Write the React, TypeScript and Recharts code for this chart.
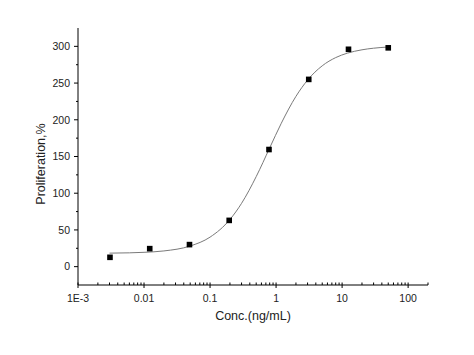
import { ComposedChart, Line, Scatter, XAxis, YAxis } from "recharts";

// measured points (4-fold dilution series)
const concs = [0.00305, 0.0122, 0.0488, 0.195, 0.781, 3.125, 12.5, 50];
const proliferation = [12.7, 24.5, 30, 63, 159.5, 255, 296, 298];

// fitted curve
const curveConcs = [0.003, 0.006, 0.01, 0.02, 0.05, 0.1, 0.2, 0.3, 0.5, 0.8, 1.2, 2, 3, 5, 8, 12, 20, 30, 50];
const curveValues = [18.4, 18.8, 19.5, 21.4, 28.1, 40.2, 64.2, 86.2, 122.6, 161.7, 195.3, 231.9, 254.1, 273.5, 284.7, 290.7, 295.3, 297.5, 299.1];

const xMajorTicks = [0.001, 0.01, 0.1, 1, 10, 100];
const xMinorSteps = [2, 3, 4, 5, 6, 7, 8, 9];
const yTicks = [0, 25, 50, 75, 100, 125, 150, 175, 200, 225, 250, 275, 300];

const points = concs.map((x, i) => ({ x, y: proliferation[i] }));
const curve = curveConcs.map((x, i) => ({ x, y: curveValues[i] }));

const xTicks: number[] = [];
xMajorTicks.forEach((m) => {
  xTicks.push(m);
  xMinorSteps.forEach((s) => {
    const v = Number((m * s).toPrecision(6));
    if (v <= 200) xTicks.push(v);
  });
});

const FONT = "'Liberation Sans', Arial, sans-serif";
const TEXT = "#222";

function isMajor(v: number) {
  const l = Math.log10(v);
  return Math.abs(l - Math.round(l)) < 1e-9;
}

function formatX(v: number) {
  if (v === 0.001) return "1E-3";
  return String(v);
}

function XTick(props: any) {
  const { x, y, payload } = props;
  const v = payload.value;
  const major = isMajor(v);
  return (
    <g>
      <line x1={x} x2={x} y1={y - 2.5} y2={major ? y + 3 : y} stroke="#000" strokeWidth={1} />
      {major && (
        <text x={x} y={y + 16.5} textAnchor="middle" fontSize={10.5} fill={TEXT} fontFamily={FONT}>
          {formatX(v)}
        </text>
      )}
    </g>
  );
}

function YTick(props: any) {
  const { x, y, payload } = props;
  const v = payload.value;
  const major = v % 50 === 0;
  return (
    <g>
      <line x1={x - (major ? 4 : 2)} x2={x} y1={y} y2={y} stroke="#000" strokeWidth={1} />
      {major && (
        <text x={x - 8} y={y + 3.8} textAnchor="end" fontSize={10.5} fill={TEXT} fontFamily={FONT}>
          {v}
        </text>
      )}
    </g>
  );
}

function Square(props: any) {
  const { cx, cy } = props;
  return <rect x={cx - 2.8} y={cy - 2.8} width={5.6} height={5.6} fill="#000" />;
}

function YLabel() {
  return (
    <text x={44.5} y={164} transform="rotate(-90 44.5 164)" textAnchor="middle" fontSize={12.5} fill={TEXT} fontFamily={FONT}>
      Proliferation,%
    </text>
  );
}

function XLabel() {
  return (
    <text x={253} y={319.5} textAnchor="middle" fontSize={12.5} fill={TEXT} fontFamily={FONT}>
      Conc.(ng/mL)
    </text>
  );
}

export default function App() {
  return (
    <div style={{ position: "absolute", left: 0, top: 0, background: "#fff" }}>
      <ComposedChart width={474} height={355} margin={{ top: 28, right: 46, left: 28, bottom: 30 }}>
        <XAxis
          dataKey="x"
          type="number"
          scale="log"
          domain={[0.001, 200]}
          ticks={xTicks}
          interval={0}
          allowDataOverflow
          tickSize={0}
          tickMargin={0}
          tickLine={false}
          tick={<XTick />}
          height={40}
          stroke="#000"
          label={{ content: () => <XLabel /> }}
        />
        <YAxis
          dataKey="y"
          type="number"
          domain={[-25, 325]}
          ticks={yTicks}
          interval={0}
          allowDataOverflow
          tickSize={0}
          tickMargin={0}
          tickLine={false}
          tick={<YTick />}
          width={50}
          stroke="#000"
          label={{ content: () => <YLabel /> }}
        />
        <Line
          data={curve}
          dataKey="y"
          type="monotone"
          stroke="#7a7a7a"
          strokeWidth={1}
          dot={false}
          activeDot={false}
          isAnimationActive={false}
        />
        <Scatter data={points} dataKey="y" shape={<Square />} isAnimationActive={false} />
      </ComposedChart>
    </div>
  );
}
